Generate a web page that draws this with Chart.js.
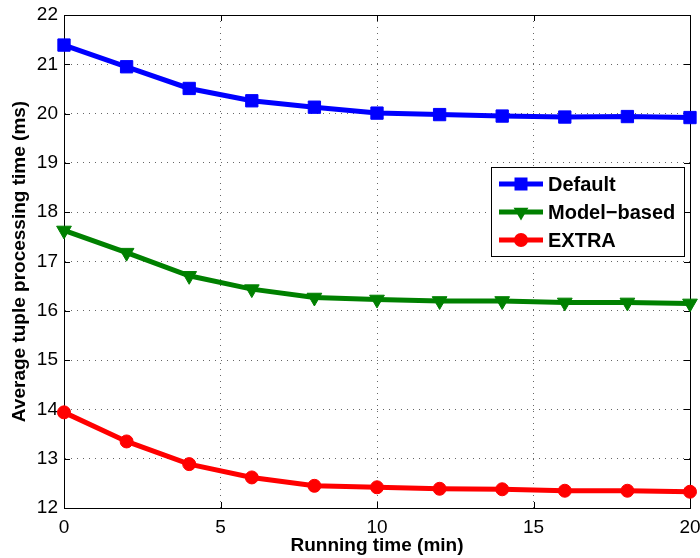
<!DOCTYPE html>
<html>
<head>
<meta charset="utf-8">
<script src="https://cdn.jsdelivr.net/npm/chart.js@4.4.1/dist/chart.umd.min.js"></script>
<style>
html, body { margin: 0; padding: 0; background: #fff; }
</style>
</head>
<body>
<canvas id="tupleChart" width="700" height="558"></canvas>
<script>
// x values (minutes) and the three series
var runningTime = [0, 2, 4, 6, 8, 10, 12, 14, 16, 18, 20];
var defaultTimes = [21.39, 20.95, 20.51, 20.26, 20.13, 20.01, 19.98, 19.95, 19.93, 19.94, 19.92];
var modelTimes = [17.63, 17.18, 16.71, 16.44, 16.27, 16.23, 16.20, 16.20, 16.17, 16.17, 16.15];
var extraTimes = [13.94, 13.35, 12.89, 12.62, 12.45, 12.42, 12.39, 12.38, 12.35, 12.35, 12.33];
var seriesNames = ['Default', 'Model\u2212based', 'EXTRA'];
var xTicks = [0, 5, 10, 15, 20];
var yTicks = [12, 13, 14, 15, 16, 17, 18, 19, 20, 21, 22];

var fontFamily = '"Liberation Sans", Arial, Helvetica, sans-serif';
var tickFont = { family: fontFamily, size: 19 };
var labelFont = { family: fontFamily, size: 19, weight: 'bold', lineHeight: 1.2 };

var toPoints = function (ys) {
    return runningTime.map(function (t, i) { return { x: t, y: ys[i] }; });
};

// MATLAB style box with inward ticks on all four sides
var boxPlugin = {
    id: 'matlabBox',
    beforeDatasetsDraw: function (chart) {
        var c = chart.ctx, a = chart.chartArea;
        var xs = chart.scales.x, ys = chart.scales.y;
        c.save();
        c.strokeStyle = '#000';
        c.lineWidth = 1;
        c.beginPath();
        xTicks.forEach(function (v) {
            var px = Math.round(xs.getPixelForValue(v)) + 0.5;
            c.moveTo(px, a.bottom); c.lineTo(px, a.bottom - 6);
            c.moveTo(px, a.top); c.lineTo(px, a.top + 6);
        });
        yTicks.forEach(function (v) {
            var py = Math.round(ys.getPixelForValue(v)) + 0.5;
            c.moveTo(a.left, py); c.lineTo(a.left + 6, py);
            c.moveTo(a.right, py); c.lineTo(a.right - 6, py);
        });
        c.stroke();
        c.strokeRect(Math.round(a.left) + 0.5, Math.round(a.top) + 0.5,
            Math.round(a.right - a.left), Math.round(a.bottom - a.top));
        c.restore();
    }
};

// legend box inside the plot, drawn from the dataset styles
var legendPlugin = {
    id: 'insideLegend',
    afterDraw: function (chart) {
        var c = chart.ctx, a = chart.chartArea;
        var x0 = Math.round(a.right) - 199, y0 = Math.round(a.top) + 152, w = 193, h = 89;
        c.save();
        c.fillStyle = '#fff';
        c.fillRect(x0, y0, w, h);
        c.strokeStyle = '#000';
        c.lineWidth = 1;
        c.strokeRect(x0 + 0.5, y0 + 0.5, w, h);
        chart.data.datasets.forEach(function (ds, i) {
            var cy = y0 + 17 + i * 28, cx = x0 + 30;
            c.strokeStyle = ds.borderColor;
            c.fillStyle = ds.borderColor;
            c.lineWidth = ds.borderWidth;
            c.beginPath();
            c.moveTo(x0 + 8, cy); c.lineTo(x0 + 52, cy);
            c.stroke();
            c.beginPath();
            if (ds.pointStyle === 'rect') {
                c.rect(cx - 6.5, cy - 6.5, 13, 13);
            } else if (ds.pointStyle === 'triangle') {
                c.moveTo(cx, cy + 8.5); c.lineTo(cx - 7.4, cy - 4.3); c.lineTo(cx + 7.4, cy - 4.3);
                c.closePath();
            } else {
                c.arc(cx, cy, 7, 0, Math.PI * 2);
            }
            c.fill();
            c.fillStyle = '#000';
            c.font = 'bold 20px ' + fontFamily;
            c.textBaseline = 'middle';
            c.textAlign = 'left';
            c.fillText(ds.label, x0 + 57, cy + 1);
        });
        c.restore();
    }
};

var ctx = document.getElementById('tupleChart').getContext('2d');
var tupleChart = new Chart(ctx, {
    type: 'line',
    data: {
        datasets: [{
            label: seriesNames[0],
            data: toPoints(defaultTimes),
            borderColor: '#0000ff',
            backgroundColor: '#0000ff',
            borderWidth: 5,
            pointStyle: 'rect',
            pointRadius: 8.7,
            pointBorderWidth: 1,
            clip: false
        }, {
            label: seriesNames[1],
            data: toPoints(modelTimes),
            borderColor: '#008000',
            backgroundColor: '#008000',
            borderWidth: 5,
            pointStyle: 'triangle',
            pointRotation: 180,
            pointRadius: 8.5,
            pointBorderWidth: 1,
            clip: false
        }, {
            label: seriesNames[2],
            data: toPoints(extraTimes),
            borderColor: '#ff0000',
            backgroundColor: '#ff0000',
            borderWidth: 5,
            pointStyle: 'circle',
            pointRadius: 6.5,
            pointBorderWidth: 1,
            clip: false
        }]
    },
    options: {
        responsive: false,
        animation: false,
        layout: { padding: { left: 0, right: 10, top: 15, bottom: 0 } },
        plugins: {
            legend: { display: false },
            tooltip: { enabled: false }
        },
        scales: {
            x: {
                type: 'linear',
                min: 0,
                max: 20,
                ticks: { stepSize: 5, font: tickFont, color: '#000', padding: 8 },
                grid: { color: '#666', drawTicks: false },
                border: { display: true, color: '#000', dash: [1, 5] },
                title: { display: true, text: 'Running time (min)', font: labelFont, color: '#000', padding: { top: 0, bottom: 1 } },
                afterFit: function (s) {
                    s.height = 50;
                    s.paddingLeft = 0;
                    s.paddingRight = 0;
                }
            },
            y: {
                min: 12,
                max: 22,
                ticks: { stepSize: 1, font: tickFont, color: '#000', padding: 6 },
                grid: { color: '#666', drawTicks: false },
                border: { display: true, color: '#000', dash: [1, 5] },
                title: { display: true, text: 'Average tuple processing time (ms)', font: labelFont, color: '#000', padding: { top: 8, bottom: 0 } },
                afterFit: function (s) {
                    s.width = 64;
                    s.paddingTop = 0;
                    s.paddingBottom = 0;
                }
            }
        }
    },
    plugins: [boxPlugin, legendPlugin]
});
</script>
</body>
</html>
